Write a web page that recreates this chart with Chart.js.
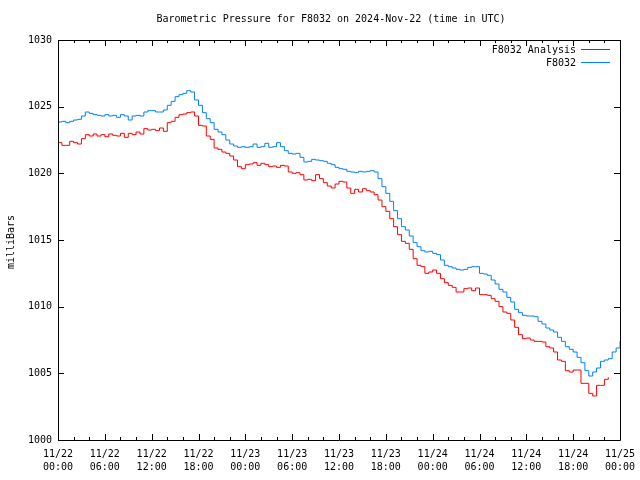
<!DOCTYPE html>
<html>
<head>
    <title>Barometric Pressure</title>
    <script src="https://cdn.jsdelivr.net/npm/chart.js"></script>
    <style>
        body { margin: 0; background: #fff; }
        canvas { display: block; }
    </style>
</head>
<body>
    <canvas id="pressureChart" width="640" height="480"></canvas>

    <script>
        // half-hourly samples, hours since 2024-11-22 00:00 UTC
        const sampleStep = 0.5;

        const stationName = "F8032";
        const analysisName = "F8032 Analysis";

        const stationValues = [
            1023.85, 1023.9, 1023.8, 1023.9, 1024.0, 1024.05, 1024.3, 1024.6, 1024.5, 1024.4,
            1024.35, 1024.3, 1024.4, 1024.3, 1024.35, 1024.2, 1024.4, 1024.3, 1024.0, 1024.3,
            1024.35, 1024.3, 1024.6, 1024.7, 1024.7, 1024.6, 1024.6, 1024.75, 1025.1, 1025.4,
            1025.75, 1025.9, 1026.0, 1026.2, 1026.1, 1025.5, 1025.1, 1024.55, 1024.1, 1023.8,
            1023.3, 1023.1, 1022.9, 1022.5, 1022.2, 1022.05, 1021.95, 1022.0, 1021.95, 1022.0,
            1022.2, 1021.95, 1022.0, 1022.25, 1021.95, 1022.0, 1022.3, 1022.0, 1021.7, 1021.5,
            1021.45, 1021.5, 1021.2, 1020.85, 1020.9, 1021.05, 1021.0, 1020.95, 1020.9, 1020.75,
            1020.65, 1020.45, 1020.35, 1020.3, 1020.15, 1020.1, 1020.05, 1020.15, 1020.1, 1020.15,
            1020.2, 1020.1, 1019.6, 1019.0, 1018.5, 1017.9, 1017.2, 1016.6, 1016.0, 1015.75,
            1015.3, 1014.8, 1014.5, 1014.2, 1014.1, 1014.15, 1014.0, 1013.9, 1013.5, 1013.1,
            1013.0, 1012.9, 1012.8, 1012.75, 1012.8, 1012.95, 1013.0, 1013.0, 1012.5, 1012.45,
            1012.35, 1012.0, 1011.7, 1011.3, 1011.1, 1010.7, 1010.35, 1009.8, 1009.55, 1009.35,
            1009.3, 1009.3, 1009.25, 1008.9, 1008.7, 1008.4, 1008.25, 1008.1, 1007.7, 1007.4,
            1007.0, 1006.8, 1006.6, 1006.2, 1005.8, 1005.2, 1004.8, 1005.1, 1005.4, 1005.9,
            1006.0, 1006.1, 1006.6, 1006.9, 1007.4
        ];

        const analysisValues = [
            1022.3, 1022.1, 1022.1, 1022.4, 1022.3, 1022.2, 1022.6, 1022.9, 1022.8, 1022.95,
            1022.8, 1022.9, 1022.75, 1022.95, 1022.85, 1022.8, 1023.0, 1022.7, 1023.0, 1022.9,
            1023.1, 1022.95, 1023.35, 1023.25, 1023.3, 1023.2, 1023.4, 1023.15, 1023.8, 1023.9,
            1024.2, 1024.4, 1024.45, 1024.55, 1024.6, 1024.3, 1023.6, 1023.55, 1022.8, 1022.55,
            1021.9, 1021.8, 1021.6, 1021.5, 1021.3, 1021.0, 1020.5, 1020.35, 1020.65, 1020.7,
            1020.8, 1020.6, 1020.75, 1020.65, 1020.5, 1020.55, 1020.45, 1020.6, 1020.55, 1020.1,
            1020.0, 1020.05, 1019.9, 1019.5, 1019.55, 1019.45, 1019.9, 1019.6, 1019.3, 1019.05,
            1018.9, 1019.2, 1019.4, 1019.35, 1018.9, 1018.5, 1018.8, 1018.6, 1018.85, 1018.7,
            1018.6, 1018.4, 1018.0, 1017.5, 1017.15, 1016.6, 1016.0, 1015.4, 1014.9, 1014.75,
            1014.3, 1013.6, 1013.1, 1013.0, 1012.5, 1012.6, 1012.75, 1012.5, 1012.1, 1011.8,
            1011.6, 1011.45, 1011.1, 1011.1, 1011.35, 1011.4, 1011.2, 1011.4, 1010.9, 1010.9,
            1010.85, 1010.6, 1010.4, 1010.0, 1009.6, 1009.5, 1009.0, 1008.45, 1007.9, 1007.6,
            1007.65, 1007.5, 1007.4, 1007.4, 1007.35, 1007.0, 1006.9, 1006.6, 1006.0, 1005.9,
            1005.2, 1005.1, 1005.25, 1005.25, 1004.25, 1004.25, 1003.5, 1003.3, 1004.1, 1004.1,
            1004.55, 1004.7
        ];

        // x tick labels, one per 6 hours
        const dayLabels = ["11/22", "11/22", "11/22", "11/22", "11/23", "11/23", "11/23", "11/23", "11/24", "11/24", "11/24", "11/24", "11/25"];
        const timeLabels = ["00:00", "06:00", "12:00", "18:00", "00:00", "06:00", "12:00", "18:00", "00:00", "06:00", "12:00", "18:00", "00:00"];
        const yTicks = [1000, 1005, 1010, 1015, 1020, 1025, 1030];

        const font = "DejaVu Sans Mono";

        function toPoints(values) {
            return values.map((v, i) => ({ x: i * sampleStep, y: v }));
        }

        // frame, inward ticks, title, legend and y title, gnuplot style
        const framePlugin = {
            id: "frame",
            afterDraw(chart) {
                const ctx = chart.ctx;
                const a = chart.chartArea;
                const xs = chart.scales.x;
                const ys = chart.scales.y;
                ctx.save();
                ctx.strokeStyle = "#000";
                ctx.lineWidth = 1;
                ctx.beginPath();
                ctx.rect(a.left + 0.5, a.top + 0.5, a.right - a.left, a.bottom - a.top);
                yTicks.forEach(v => {
                    const y = Math.round(ys.getPixelForValue(v)) + 0.5;
                    ctx.moveTo(a.left, y); ctx.lineTo(a.left + 6, y);
                    ctx.moveTo(a.right, y); ctx.lineTo(a.right - 6, y);
                });
                for (let h = 0; h <= 72; h += 2) {
                    const x = Math.round(xs.getPixelForValue(h)) + 0.5;
                    const len = h % 6 === 0 ? 6 : 3;
                    ctx.moveTo(x, a.bottom); ctx.lineTo(x, a.bottom - len);
                    ctx.moveTo(x, a.top); ctx.lineTo(x, a.top + len);
                }
                ctx.stroke();

                ctx.fillStyle = "#000";
                ctx.font = "10px '" + font + "'";
                ctx.textBaseline = "middle";
                ctx.textAlign = "center";
                ctx.fillText("Barometric Pressure for F8032 on 2024-Nov-22 (time in UTC)", 331, 19);

                // legend
                ctx.textAlign = "right";
                chart.data.datasets.forEach((ds, i) => {
                    const y = 50 + i * 13;
                    ctx.fillText(ds.label, 576, y);
                    ctx.strokeStyle = ds.borderColor;
                    ctx.beginPath();
                    ctx.moveTo(581, y - 0.5);
                    ctx.lineTo(610, y - 0.5);
                    ctx.stroke();
                });

                ctx.translate(11, 242);
                ctx.rotate(-Math.PI / 2);
                ctx.textAlign = "center";
                ctx.fillText("milliBars", 0, 0);
                ctx.restore();
            }
        };

        new Chart(document.getElementById("pressureChart"), {
            type: "line",
            data: {
                datasets: [
                    {
                        label: analysisName,
                        data: toPoints(analysisValues),
                        borderColor: "#ff0000",
                        borderWidth: 1,
                        pointRadius: 0,
                        stepped: true,
                        fill: false
                    },
                    {
                        label: stationName,
                        data: toPoints(stationValues),
                        borderColor: "#0080ff",
                        borderWidth: 1,
                        pointRadius: 0,
                        stepped: true,
                        fill: false
                    }
                ]
            },
            options: {
                responsive: false,
                animation: false,
                devicePixelRatio: 1,
                layout: { padding: { top: 40, right: 20, left: 0, bottom: 0 } },
                plugins: {
                    legend: { display: false },
                    title: { display: false },
                    tooltip: { enabled: false }
                },
                scales: {
                    x: {
                        type: "linear",
                        min: 0,
                        max: 72,
                        grid: { display: false, drawTicks: false },
                        border: { display: false },
                        ticks: {
                            stepSize: 6,
                            autoSkip: false,
                            maxRotation: 0,
                            padding: 8,
                            color: "#000",
                            font: { family: font, size: 10, lineHeight: 1.3 },
                            callback: v => [dayLabels[v / 6], timeLabels[v / 6]]
                        },
                        afterFit: s => { s.height = 40; s.paddingLeft = 0; s.paddingRight = 0; }
                    },
                    y: {
                        min: 1000,
                        max: 1030,
                        grid: { display: false, drawTicks: false },
                        border: { display: false },
                        ticks: {
                            stepSize: 5,
                            padding: 6,
                            color: "#000",
                            font: { family: font, size: 10 },
                            callback: v => String(v)
                        },
                        afterFit: s => { s.width = 58; }
                    }
                }
            },
            plugins: [framePlugin]
        });
    </script>
</body>
</html>
